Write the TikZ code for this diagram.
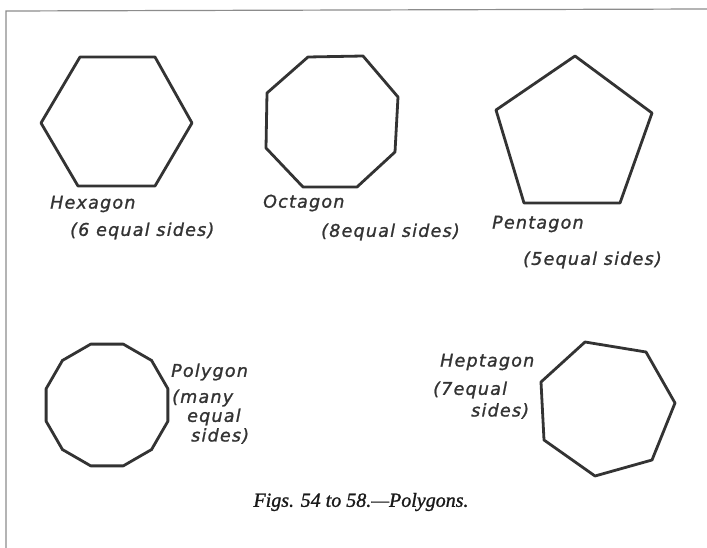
\documentclass[tikz,border=0pt]{standalone}
\usepackage{fontspec}
\newfontfamily\labfont[LetterSpace=7,FakeBold=1.2]{DejaVu Sans}
\newfontfamily\capfont[Ligatures=TeX,FakeBold=1.2]{Liberation Serif}
\begin{document}
\begin{tikzpicture}[x=1pt,y=-1pt,
  poly/.style={draw=black!80, line width=2.8pt, line join=round},
  lab/.style={font=\labfont\itshape\fontsize{17.5}{19}\selectfont, text=black!80, anchor=west, inner sep=0pt},
  frameline/.style={draw=black!45, line width=1.2pt}]
\useasboundingbox (0,0) rectangle (707,548);
\fill[white] (0,0) rectangle (707,548);
% frame
\coordinate (f1) at (6,548);
\coordinate (f2) at (6,11);
\coordinate (f3) at (707,9);
\draw[frameline] (f1) -- (f2) -- (f3);
% hexagon
\draw[poly] (80,57) -- (155,57) -- (192,123) -- (155,186) -- (78,186) -- (41,123) -- cycle;
\node[lab] (hexa) at (50,204) {Hexagon};
\node[lab] (hexb) at (70,231) {(6 equal sides)};
% octagon
\draw[poly] (308,57) -- (363,56) -- (398,97) -- (395,152) -- (357,187) -- (303,187) -- (266,148) -- (267,93) -- cycle;
\node[lab] (octa) at (263,203) {Octagon};
\node[lab] (octb) at (321,232) {(8equal sides)};
% pentagon
\draw[poly] (575,56) -- (652,113) -- (620,203) -- (524,203) -- (496,110) -- cycle;
\node[lab] (pena) at (492,224) {Pentagon};
\node[lab] (penb) at (523,260) {(5equal sides)};
% polygon (12 sides)
\draw[poly] (107,405) +(15:63) -- +(45:63) -- +(75:63) -- +(105:63) -- +(135:63) -- +(165:63) -- +(195:63) -- +(225:63) -- +(255:63) -- +(285:63) -- +(315:63) -- +(345:63) -- cycle;
\node[lab] (pola) at (171,372) {Polygon};
\node[lab] (polb) at (172,398) {(many};
\node[lab] (polc) at (187,417) {equal};
\node[lab] (pold) at (191,436) {sides)};
% heptagon
\draw[poly] (585,342) -- (646,352) -- (675,403) -- (652,460) -- (595,476) -- (544,440) -- (541,382) -- cycle;
\node[lab] (hepa) at (440,362) {Heptagon};
\node[lab] (hepb) at (433,390) {(7equal};
\node[lab] (hepc) at (471,411) {sides)};
% caption
\node[font=\capfont\itshape\fontsize{20}{22}\selectfont, text=black!90, inner sep=0pt] (cap) at (361,502) {Figs. 54 to 58.---Polygons.};
\end{tikzpicture}
\end{document}
